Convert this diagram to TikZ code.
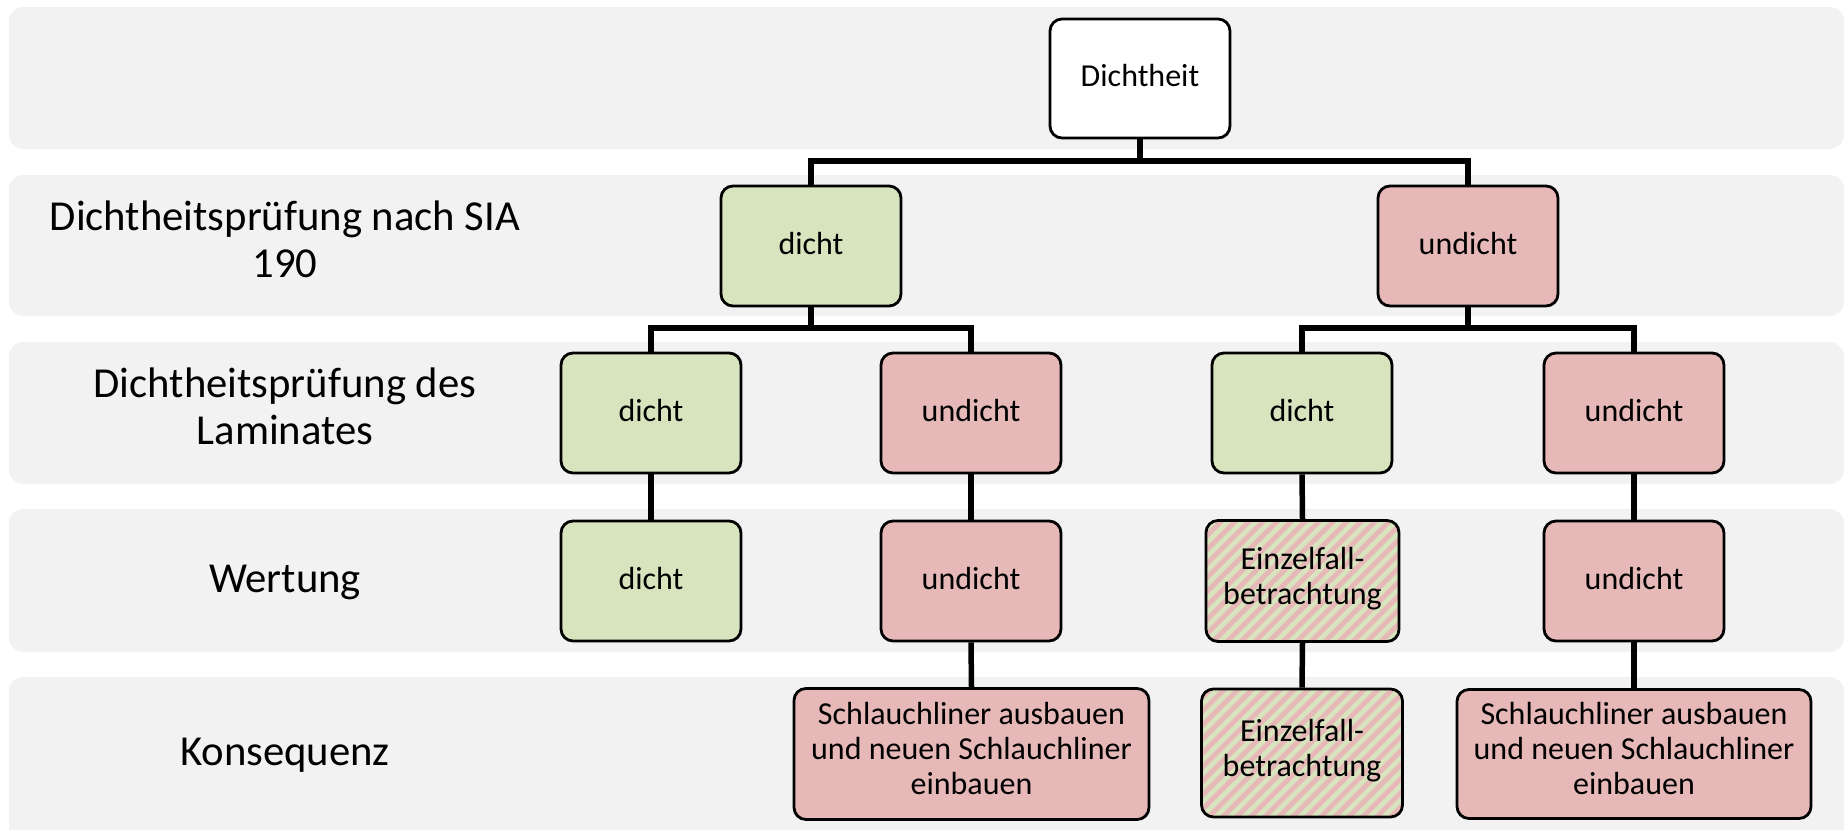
\documentclass[tikz,border=0pt]{standalone}
\usepackage{fontspec}
\setmainfont{Carlito}
\definecolor{bandgray}{HTML}{F2F2F2}
\definecolor{okgreen}{HTML}{D7E4BD}
\definecolor{badred}{HTML}{E6B9B8}
\tikzset{
  tstrut/.store in=\tstrutht, tstrut=26.5pt,
  bstrut/.store in=\bstrutdp, bstrut=10.5pt,
  struts/.style={execute at begin node={\rule{0pt}{\tstrutht}},
    execute at end node={\rule[-\bstrutdp]{0pt}{\bstrutdp}}},
  band/.style={fill=bandgray, draw=none, rounded corners=14pt},
  box/.style={draw=black, line width=2.8pt, rounded corners=12pt,
    minimum width=180pt, minimum height=120pt, inner sep=0pt, align=center,
    font=\fontsize{32}{35}\selectfont, struts, tstrut=26.5pt, bstrut=10.5pt},
  okbox/.style={box, fill=okgreen},
  badbox/.style={box, fill=badred},
  mixbox/.style={box, fill=badred, path picture={
      \foreach \k in {-14,...,18}
        \draw[okgreen, line width=4.6pt]
          ([xshift=\k*14pt]path picture bounding box.south west) -- ++(260pt,260pt);
    }},
  conn/.style={line width=5.5pt},
  lbl/.style={align=center, font=\fontsize{42.7}{47}\selectfont, inner sep=0pt,
    struts, tstrut=38.5pt, bstrut=14.1pt},
}
\begin{document}
\begin{tikzpicture}[x=1pt,y=-1pt]
\useasboundingbox (0,0) rectangle (1845,830);
\clip (0,0) rectangle (1845,830);
% bands
\fill[band] (9,7) rectangle (1844,149);
\fill[band] (9,175) rectangle (1844,316);
\fill[band] (9,342) rectangle (1844,484);
\fill[band] (9,509) rectangle (1844,652);
\fill[band] (9,677) rectangle (1844,845);
% row labels
\node[lbl] (lab1) at (285,246) {Dichtheitsprüfung nach SIA\\190};
\node[lbl] (lab2) at (285,413) {Dichtheitsprüfung des\\Laminates};
\node[lbl, tstrut=37.7pt] (lab3) at (285,581) {Wertung};
\node[lbl, tstrut=37.7pt] (lab4) at (285,754) {Konsequenz};
% nodes
\node[box, fill=white, minimum height=119pt] (top) at (1140,78.5) {Dichtheit};
\node[okbox] (a) at (811,246) {dicht};
\node[badbox] (b) at (1468,246) {undicht};
\node[okbox] (aa) at (651,413) {dicht};
\node[badbox] (ab) at (971,413) {undicht};
\node[okbox] (ba) at (1302,413) {dicht};
\node[badbox] (bb) at (1634,413) {undicht};
\node[okbox] (w1) at (651,581) {dicht};
\node[badbox] (w2) at (971,581) {undicht};
\node[mixbox, minimum width=193pt, minimum height=121pt, tstrut=38pt] (w3) at (1302.5,581) {Einzelfall-\\betrachtung};
\node[badbox] (w4) at (1634,581) {undicht};
\node[badbox, minimum width=355pt, minimum height=131pt, tstrut=33pt] (k2) at (971.5,754) {Schlauchliner ausbauen\\und neuen Schlauchliner\\einbauen};
\node[mixbox, minimum width=201pt, minimum height=128pt, tstrut=38pt] (k3) at (1302,753) {Einzelfall-\\betrachtung};
\node[badbox, minimum width=354pt, minimum height=129pt, tstrut=33pt] (k4) at (1634,754) {Schlauchliner ausbauen\\und neuen Schlauchliner\\einbauen};
% junctions
\coordinate (j1) at (1140,161);
\coordinate (j2) at (811,328);
\coordinate (j3) at (1468,328);
% connectors
\draw[conn] (top.south) -- (j1);
\draw[conn] (j1) -| (a.north);
\draw[conn] (j1) -| (b.north);
\draw[conn] (a.south) -- (j2);
\draw[conn] (j2) -| (aa.north);
\draw[conn] (j2) -| (ab.north);
\draw[conn] (b.south) -- (j3);
\draw[conn] (j3) -| (ba.north);
\draw[conn] (j3) -| (bb.north);
\draw[conn] (aa.south) -- (w1.north);
\draw[conn] (ab.south) -- (w2.north);
\draw[conn] (ba.south) -- (w3.north);
\draw[conn] (bb.south) -- (w4.north);
\draw[conn] (w2.south) -- (k2.north);
\draw[conn] (w3.south) -- (k3.north);
\draw[conn] (w4.south) -- (k4.north);
\end{tikzpicture}
\end{document}
